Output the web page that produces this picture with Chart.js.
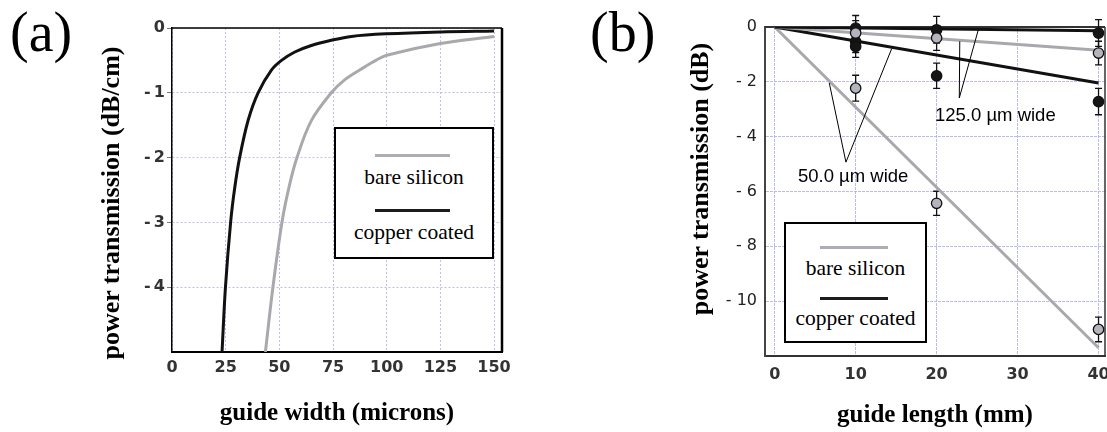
<!DOCTYPE html>
<html>
<head>
<meta charset="utf-8">
<script src="https://cdn.jsdelivr.net/npm/chart.js@4.4.1/dist/chart.umd.min.js"></script>
<style>
html, body { margin: 0; padding: 0; background: #fff; overflow: hidden; width: 1107px; height: 432px; position: relative; }
canvas { position: absolute; top: 0; }
#chartA { left: 0; }
#chartB { left: 560px; }
.panel { position: absolute; font-family: 'Liberation Serif', 'Times New Roman', serif; font-size: 56px; line-height: 1; color: #000; }
.ytitle { position: absolute; width: 400px; text-align: center; font-family: 'Liberation Serif', 'Times New Roman', serif; font-weight: bold; font-size: 26px; line-height: 1; transform: translate(-50%, -50%) rotate(-90deg); white-space: nowrap; }
.legend { position: absolute; border: 2px solid #000; background: #fff; box-sizing: border-box; font-family: 'Liberation Serif', 'Times New Roman', serif; font-size: 21.5px; }
.legend .ln { position: absolute; height: 3px; }
.legend .tx { position: absolute; left: 0; right: 0; text-align: center; line-height: 1; transform: translateY(-50%); white-space: nowrap; }
</style>
</head>
<body>
<canvas id="chartA" width="520" height="432"></canvas>
<canvas id="chartB" width="560" height="432"></canvas>

<div class="panel" style="left:10px; top:4px;">(a)</div>
<div class="panel" style="left:590px; top:4px;">(b)</div>
<div class="ytitle" style="left:111px; top:203px;">power transmission (dB/cm)</div>
<div class="ytitle" style="left:700px; top:179px;">power transmission (dB)</div>

<div class="legend" style="left:334px; top:127px; width:160px; height:132px;">
  <div class="ln" style="left:39px; top:25px; width:75px; background:#adadb5;"></div>
  <div class="tx" id="legA1" style="top:49px;"></div>
  <div class="ln" style="left:39px; top:80px; width:75px; background:#1c1c1c;"></div>
  <div class="tx" id="legA2" style="top:104px;"></div>
</div>
<div class="legend" style="left:784px; top:222px; width:143px; height:121px;">
  <div class="ln" style="left:34px; top:22px; width:68px; background:#adadb5;"></div>
  <div class="tx" id="legB1" style="top:45px;"></div>
  <div class="ln" style="left:34px; top:73px; width:68px; background:#1c1c1c;"></div>
  <div class="tx" id="legB2" style="top:95px;"></div>
</div>

<script>
// series names
const seriesNames = ['bare silicon', 'copper coated'];

// (a) loss vs guide width
const widthCopper = [23.3, 24.9, 27.3, 29.2, 31.5, 35.5, 40.1, 46.3, 51, 57.2, 64.9, 74.2, 83.6, 100, 125, 150];
const lossCopper  = [-5, -4, -3, -2.47, -2, -1.42, -1, -0.65, -0.5, -0.37, -0.27, -0.19, -0.13, -0.09, -0.06, -0.045];
const widthBare   = [43.5, 47, 51.2, 54.4, 58.2, 64.9, 74.2, 80.4, 89.8, 94.9, 100, 125, 150];
const lossBare    = [-5, -4, -3, -2.47, -2, -1.43, -1, -0.8, -0.6, -0.5, -0.42, -0.24, -0.13];
const widthTicks  = [0, 25, 50, 75, 100, 125, 150];
const lossTicksA  = [0, -1, -2, -3, -4];

// (b) transmission vs guide length: fitted lines
const lengthFit    = [0, 40];
const fitBare50    = [0, -11.7];
const fitCopper50  = [0, -2.04];
const fitBare125   = [0, -0.85];
const fitCopper125 = [0, -0.14];

// (b) measurements with error bars
const lengthMeas    = [10, 20, 40];
const measBare125   = [-0.22, -0.4, -0.95];
const errBare125    = [0.45, 0.45, 0.43];
const measBare50    = [-2.23, -6.43, -11.03];
const errBare50     = [0.47, 0.44, 0.45];
const measCopper125 = [-0.04, -0.1, -0.22];
const errCopper125  = [0.46, 0.49, 0.49];
const lengthCu50    = [10, 10, 20, 40];
const measCopper50  = [-0.53, -0.71, -1.78, -2.72];
const errCopper50   = [0.4, 0.4, 0.46, 0.48];
const lengthTicks   = [0, 10, 20, 30, 40];
const lossTicksB    = [0, -2, -4, -6, -8, -10];

// leader notes in (b), in data units
const notes = [
  { text: '125.0 \u00b5m wide', at: [19.8, -3.26], apex: [22.8, -2.59], ends: [[22.86, -0.52], [25.15, -0.1]] },
  { text: '50.0 \u00b5m wide', at: [2.87, -5.45], apex: [8.8, -4.93], ends: [[6.74, -2.04], [14.45, -0.79]] }
];

document.getElementById('legA1').textContent = seriesNames[0];
document.getElementById('legA2').textContent = seriesNames[1];
document.getElementById('legB1').textContent = seriesNames[0];
document.getElementById('legB2').textContent = seriesNames[1];

function toXY(xs, ys) { return xs.map((x, i) => ({ x: x, y: ys[i] })); }

const gridA = 'rgba(175,175,235,0.8)';
const gridB = 'rgba(175,175,240,0.85)';
const grayLine = '#a9a9ad';
const blackLine = '#111';

const frameBox = {
  id: 'frameBox',
  beforeDatasetsDraw(chart, args, opts) {
    const a = chart.chartArea, ctx = chart.ctx;
    ctx.save();
    ctx.strokeStyle = opts.color;
    ctx.lineWidth = opts.top;
    ctx.beginPath(); ctx.moveTo(a.left, a.top); ctx.lineTo(a.right, a.top); ctx.stroke();
    ctx.lineWidth = opts.right;
    ctx.beginPath(); ctx.moveTo(a.right, a.top); ctx.lineTo(a.right, a.bottom); ctx.stroke();
    ctx.restore();
  }
};

const errorBars = {
  id: 'errorBars',
  beforeDatasetsDraw(chart) {
    const ctx = chart.ctx, xs = chart.scales.x, ys = chart.scales.y;
    ctx.save();
    ctx.strokeStyle = '#111';
    ctx.lineWidth = 1.3;
    chart.data.datasets.forEach(ds => {
      if (!ds.errors) return;
      ds.data.forEach((p, i) => {
        const x = xs.getPixelForValue(p.x);
        const y1 = ys.getPixelForValue(p.y + ds.errors[i]);
        const y2 = ys.getPixelForValue(p.y - ds.errors[i]);
        ctx.beginPath();
        ctx.moveTo(x, y1); ctx.lineTo(x, y2);
        ctx.moveTo(x - 3.5, y1); ctx.lineTo(x + 3.5, y1);
        ctx.moveTo(x - 3.5, y2); ctx.lineTo(x + 3.5, y2);
        ctx.stroke();
      });
    });
    ctx.restore();
  }
};

const leaderNotes = {
  id: 'leaderNotes',
  afterDatasetsDraw(chart) {
    const ctx = chart.ctx, xs = chart.scales.x, ys = chart.scales.y;
    ctx.save();
    ctx.strokeStyle = '#000';
    ctx.lineWidth = 1;
    ctx.fillStyle = '#000';
    ctx.font = '18.5px "Liberation Sans", Arial, sans-serif';
    ctx.textBaseline = 'middle';
    ctx.textAlign = 'left';
    notes.forEach(n => {
      const ax = xs.getPixelForValue(n.apex[0]), ay = ys.getPixelForValue(n.apex[1]);
      n.ends.forEach(e => {
        ctx.beginPath();
        ctx.moveTo(ax, ay);
        ctx.lineTo(xs.getPixelForValue(e[0]), ys.getPixelForValue(e[1]));
        ctx.stroke();
      });
      ctx.fillText(n.text, xs.getPixelForValue(n.at[0]), ys.getPixelForValue(n.at[1]));
    });
    ctx.restore();
  }
};

function fixedTicks(list) {
  return function (axis) { axis.ticks = list.map(v => ({ value: v })); };
}

// ---------- (a) ----------
new Chart(document.getElementById('chartA'), {
  type: 'scatter',
  data: {
    datasets: [
      { label: seriesNames[1], data: toXY(widthCopper, lossCopper), showLine: true, borderColor: blackLine, borderWidth: 3, pointRadius: 0, tension: 0.35 },
      { label: seriesNames[0], data: toXY(widthBare, lossBare), showLine: true, borderColor: grayLine, borderWidth: 3, pointRadius: 0, tension: 0.35 }
    ]
  },
  options: {
    responsive: false,
    animation: false,
    layout: { padding: { top: 28, right: 18, bottom: 0, left: 0 } },
    plugins: {
      legend: { display: false },
      tooltip: { enabled: false },
      frameBox: { color: '#000', top: 1.5, right: 2.5 }
    },
    scales: {
      x: {
        type: 'linear', min: 0, max: 153.7,
        afterBuildTicks: fixedTicks(widthTicks),
        afterFit: s => { s.height = 80; },
        grid: { color: gridA, drawTicks: false },
        border: { color: '#000', width: 2, dash: [2, 2] },
        ticks: { padding: 6, color: '#333', font: { family: 'DejaVu Sans', size: 16, weight: 'bold' } },
        title: { display: true, text: 'guide width (microns)', color: '#000', font: { family: 'Liberation Serif', size: 25, weight: 'bold' }, padding: { top: 0, bottom: 3 } }
      },
      y: {
        type: 'linear', min: -5, max: 0,
        afterBuildTicks: fixedTicks(lossTicksA),
        afterFit: s => { s.width = 172; },
        grid: { color: gridA, drawTicks: true, tickLength: 5, tickColor: '#777' },
        border: { color: '#000', width: 1.5, dash: [2, 2] },
        ticks: { padding: 2, color: '#333', font: { family: 'DejaVu Sans', size: 16, weight: 'bold' },
                 callback: v => v === 0 ? '0' : '-\u2009' + Math.abs(v) }
      }
    }
  },
  plugins: [frameBox]
});

// ---------- (b) ----------
const pointStyle = (fill) => ({ showLine: false, pointRadius: 5.2, pointBackgroundColor: fill, pointBorderColor: '#111', pointBorderWidth: 1.3, clip: false, order: 0 });
const fitStyle = (color) => ({ showLine: true, pointRadius: 0, borderColor: color, borderWidth: 3, order: 1 });

new Chart(document.getElementById('chartB'), {
  type: 'scatter',
  data: {
    datasets: [
      Object.assign({ label: seriesNames[0] + ' 125', data: toXY(lengthMeas, measBare125), errors: errBare125 }, pointStyle('#b4b4bc')),
      Object.assign({ label: seriesNames[0] + ' 50', data: toXY(lengthMeas, measBare50), errors: errBare50 }, pointStyle('#b4b4bc')),
      Object.assign({ label: seriesNames[1] + ' 125', data: toXY(lengthMeas, measCopper125), errors: errCopper125 }, pointStyle('#151515')),
      Object.assign({ label: seriesNames[1] + ' 50', data: toXY(lengthCu50, measCopper50), errors: errCopper50 }, pointStyle('#151515')),
      Object.assign({ label: 'fit copper 125', data: toXY(lengthFit, fitCopper125) }, fitStyle(blackLine)),
      Object.assign({ label: 'fit bare 125', data: toXY(lengthFit, fitBare125) }, fitStyle(grayLine)),
      Object.assign({ label: 'fit copper 50', data: toXY(lengthFit, fitCopper50) }, fitStyle(blackLine)),
      Object.assign({ label: 'fit bare 50', data: toXY(lengthFit, fitBare50) }, fitStyle(grayLine))
    ]
  },
  options: {
    responsive: false,
    animation: false,
    layout: { padding: { top: 27, right: 15, bottom: 0, left: 0 } },
    plugins: {
      legend: { display: false },
      tooltip: { enabled: false },
      frameBox: { color: '#333', top: 2, right: 1.5 }
    },
    scales: {
      x: {
        type: 'linear', min: -1.2, max: 40.8,
        afterBuildTicks: fixedTicks(lengthTicks),
        afterFit: s => { s.height = 76; },
        grid: { color: gridB, drawTicks: false },
        border: { color: '#333', width: 2, dash: [3, 1] },
        ticks: { padding: 9, color: '#333', font: { family: 'DejaVu Sans', size: 16, weight: 'bold' } },
        title: { display: true, text: 'guide length (mm)', color: '#000', font: { family: 'Liberation Serif', size: 25, weight: 'bold' }, padding: { top: 0, bottom: 1 } }
      },
      y: {
        type: 'linear', min: -12, max: 0,
        afterBuildTicks: fixedTicks(lossTicksB),
        afterFit: s => { s.width = 205; },
        grid: { color: gridB, drawTicks: false },
        border: { color: '#444', width: 2, dash: [3, 1] },
        ticks: { padding: 8, color: '#222', font: { family: 'DejaVu Sans', size: 16 },
                 callback: v => v === 0 ? '0' : '- ' + Math.abs(v) }
      }
    }
  },
  plugins: [frameBox, errorBars, leaderNotes]
});
</script>
</body>
</html>
